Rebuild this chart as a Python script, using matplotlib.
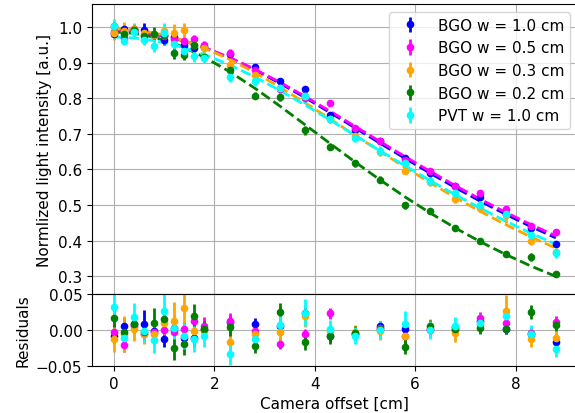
import matplotlib
matplotlib.use("Agg")
import matplotlib.pyplot as plt
import numpy as np

# ---- data ----
offset = [0.0, 0.2, 0.4, 0.6, 0.8, 1.0, 1.2, 1.4, 1.6, 1.8, 2.3, 2.8, 3.3, 3.8,
          4.3, 4.8, 5.3, 5.8, 6.3, 6.8, 7.3, 7.8, 8.3, 8.8]

labels = ["BGO w = 1.0 cm", "BGO w = 0.5 cm", "BGO w = 0.3 cm",
          "BGO w = 0.2 cm", "PVT w = 1.0 cm"]
colors = ["blue", "magenta", "orange", "green", "cyan"]

bgo10_val = [0.982, 0.9944, 0.9955, 0.9925, 0.9782, 0.9627, 0.9711, 0.9495, 0.9407, 0.9439,
             0.9245, 0.8881, 0.8477, 0.8264, 0.7522, 0.7111, 0.6797, 0.6330, 0.5903, 0.5530,
             0.5226, 0.4762, 0.4349, 0.3918]
bgo05_val = [0.987, 0.9684, 0.9926, 0.9786, 0.9774, 0.9750, 0.9656, 0.9620, 0.9654, 0.9489,
             0.9279, 0.8801, 0.8263, 0.7996, 0.7870, 0.7163, 0.6814, 0.6279, 0.5945, 0.5544,
             0.5332, 0.4898, 0.4415, 0.4243]
bgo03_val = [0.983, 0.9893, 0.9942, 0.9838, 0.978, 0.9878, 0.983, 0.9918, 0.951, 0.9402,
             0.8936, 0.8666, 0.8287, 0.8068, 0.7414, 0.6932, 0.6485, 0.5967, 0.5654, 0.5170,
             0.4909, 0.4712, 0.3979, 0.368]
bgo02_val = [1.002, 0.9821, 0.9913, 0.9747, 0.9814, 0.9783, 0.9286, 0.9223, 0.9485, 0.9164,
             0.879, 0.8068, 0.8035, 0.7102, 0.6643, 0.6171, 0.5716, 0.4996, 0.4834, 0.4365,
             0.3997, 0.3633, 0.3539, 0.3065]
pvt10_val = [1.0035, 0.9604, 0.9875, 0.9643, 0.948, 0.9824, 0.9527, 0.9339, 0.9199, 0.914,
             0.8611, 0.8477, 0.8293, 0.8057, 0.7412, 0.6879, 0.6526, 0.618, 0.5686, 0.5347,
             0.5008, 0.474, 0.4163, 0.3639]

bgo10_fit = [0.9900, 0.9894, 0.9875, 0.9845, 0.9802, 0.9747, 0.9681, 0.9605, 0.9517, 0.9419,
             0.9135, 0.8801, 0.8427, 0.8024, 0.7602, 0.7171, 0.6737, 0.6310, 0.5893, 0.5490,
             0.5106, 0.4742, 0.4399, 0.4078]
bgo05_fit = [0.9900, 0.9894, 0.9876, 0.9846, 0.9804, 0.9750, 0.9686, 0.9610, 0.9524, 0.9429,
             0.9149, 0.8821, 0.8453, 0.8056, 0.7640, 0.7213, 0.6784, 0.6359, 0.5945, 0.5544,
             0.5162, 0.4798, 0.4455, 0.4133]
bgo03_fit = [0.9950, 0.9943, 0.9922, 0.9888, 0.9840, 0.9778, 0.9705, 0.9618, 0.9520, 0.9412,
             0.9096, 0.8726, 0.8317, 0.7878, 0.7424, 0.6962, 0.6505, 0.6057, 0.5624, 0.5210,
             0.4819, 0.4452, 0.4109, 0.3790]
bgo02_fit = [0.9860, 0.9851, 0.9823, 0.9777, 0.9714, 0.9633, 0.9536, 0.9423, 0.9295, 0.9154,
             0.8750, 0.8288, 0.7785, 0.7262, 0.6733, 0.6211, 0.5706, 0.5226, 0.4774, 0.4355,
             0.3967, 0.3613, 0.3289, 0.2995]
pvt10_fit = [0.9720, 0.9714, 0.9695, 0.9663, 0.9620, 0.9564, 0.9497, 0.9419, 0.9329, 0.9230,
             0.8941, 0.8602, 0.8223, 0.7817, 0.7392, 0.6959, 0.6526, 0.6100, 0.5686, 0.5287,
             0.4908, 0.4550, 0.4213, 0.3899]

bgo10_res = [-0.008, 0.005, 0.008, 0.008, -0.002, -0.012, 0.003, -0.011, -0.011, 0.002,
             0.011, 0.008, 0.005, 0.024, -0.008, -0.006, 0.006, 0.002, 0.001, 0.004,
             0.012, 0.002, -0.005, -0.016]
bgo05_res = [-0.003, -0.021, 0.005, -0.006, -0.003, 0.0, -0.003, 0.001, 0.013, 0.006,
             0.013, -0.002, -0.019, -0.006, 0.023, -0.005, 0.003, -0.008, 0.0, 0.0,
             0.017, 0.010, -0.004, 0.011]
bgo03_res = [-0.012, -0.005, 0.002, -0.005, -0.006, 0.010, 0.0125, 0.030, -0.001, -0.001,
             -0.016, -0.006, -0.003, 0.019, -0.001, -0.003, -0.002, -0.009, 0.003, -0.004,
             0.009, 0.026, -0.013, -0.011]
bgo02_res = [0.016, -0.003, 0.009, -0.003, 0.010, 0.015, -0.025, -0.020, 0.019, 0.001,
             0.004, -0.022, 0.025, -0.016, -0.009, -0.004, 0.001, -0.023, 0.006, 0.001,
             0.003, 0.002, 0.025, 0.007]
pvt10_res = [0.0315, -0.011, 0.018, -0.002, -0.014, 0.026, 0.003, -0.008, -0.013, -0.009,
             -0.033, -0.0125, 0.007, 0.024, 0.002, -0.008, 0.0, 0.008, 0.0, 0.006,
             0.010, 0.019, -0.005, -0.026]

bgo10_err = [0.010, 0.012, 0.010, 0.020, 0.010, 0.012, 0.010, 0.010, 0.012, 0.010,
             0.008, 0.008, 0.008, 0.008, 0.008, 0.008, 0.007, 0.007, 0.007, 0.007,
             0.007, 0.007, 0.007, 0.007]
bgo05_err = [0.010, 0.010, 0.010, 0.012, 0.010, 0.010, 0.010, 0.010, 0.012, 0.012,
             0.010, 0.008, 0.008, 0.008, 0.008, 0.008, 0.008, 0.008, 0.008, 0.008,
             0.008, 0.008, 0.008, 0.008]
bgo03_err = [0.018, 0.025, 0.017, 0.015, 0.015, 0.015, 0.027, 0.020, 0.015, 0.012,
             0.015, 0.012, 0.012, 0.015, 0.010, 0.010, 0.012, 0.010, 0.012, 0.012,
             0.010, 0.023, 0.010, 0.010]
bgo02_err = [0.012, 0.012, 0.012, 0.012, 0.020, 0.015, 0.017, 0.015, 0.017, 0.012,
             0.012, 0.010, 0.012, 0.012, 0.010, 0.010, 0.010, 0.010, 0.008, 0.008,
             0.008, 0.008, 0.010, 0.008]
pvt10_err = [0.019, 0.012, 0.020, 0.015, 0.018, 0.029, 0.015, 0.018, 0.018, 0.015,
             0.016, 0.012, 0.012, 0.019, 0.012, 0.012, 0.012, 0.018, 0.012, 0.012,
             0.012, 0.012, 0.012, 0.012]

values = [bgo10_val, bgo05_val, bgo03_val, bgo02_val, pvt10_val]
fits = [bgo10_fit, bgo05_fit, bgo03_fit, bgo02_fit, pvt10_fit]
resids = [bgo10_res, bgo05_res, bgo03_res, bgo02_res, pvt10_res]
errs = [bgo10_err, bgo05_err, bgo03_err, bgo02_err, pvt10_err]

plt.rcParams["font.size"] = 11

fig = plt.figure(figsize=(5.75, 4.14), dpi=100)
ax = fig.add_axes([0.16, 0.2874, 0.845, 0.7005])
axr = fig.add_axes([0.16, 0.1135, 0.845, 0.1739], sharex=ax)

for v, f, r, e, c, lab in zip(values, fits, resids, errs, colors, labels):
    ax.errorbar(offset, v, yerr=e, fmt="o", color=c, markersize=4.5,
                elinewidth=2, capsize=0, label=lab)
    ax.plot(offset, f, "--", color=c, lw=2)
    axr.errorbar(offset, r, yerr=e, fmt="o", color=c, markersize=4.5,
                 elinewidth=2, capsize=0)

ax.set_xlim(-0.44, 9.24)
ax.set_ylim(0.25, 1.065)
ax.set_yticks([0.3, 0.4, 0.5, 0.6, 0.7, 0.8, 0.9, 1.0])
ax.set_ylabel("Normlized light intensity [a.u.]")
ax.grid(True)
ax.tick_params(labelbottom=False)
ax.legend(loc="upper right")

axr.set_ylim(-0.05, 0.05)
axr.set_yticks([-0.05, 0.0, 0.05])
axr.set_yticklabels(["\u22120.05", "0.00", "0.05"])
axr.set_xticks([0, 2, 4, 6, 8])
axr.set_ylabel("Residuals")
axr.set_xlabel("Camera offset [cm]")
axr.grid(True)

fig.savefig("out.png", dpi=100)
